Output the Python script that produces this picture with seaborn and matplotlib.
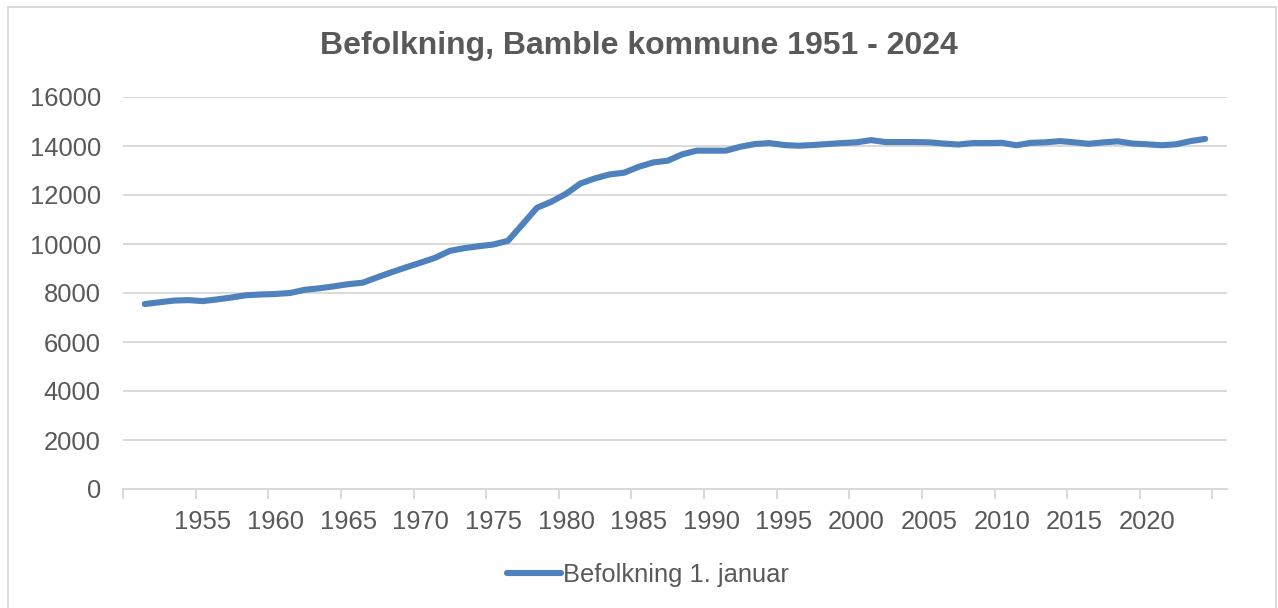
import matplotlib
matplotlib.use('Agg')
import matplotlib.pyplot as plt
import matplotlib.ticker as ticker
from matplotlib.patches import Rectangle
import seaborn as sns
import pandas as pd

# Befolkning 1. januar, Bamble kommune
aar = list(range(1951, 2025))
befolkning = [
    7550, 7620, 7690, 7710, 7670, 7740, 7820, 7910, 7940, 7960,   # 1951-1960
    8000, 8130, 8190, 8270, 8360, 8420, 8640, 8850, 9050, 9240,   # 1961-1970
    9440, 9720, 9830, 9910, 9980, 10130, 10800, 11480, 11730, 12050,  # 1971-1980
    12470, 12680, 12840, 12910, 13150, 13330, 13400, 13660, 13810, 13810,  # 1981-1990
    13810, 13970, 14080, 14120, 14040, 14010, 14040, 14080, 14120, 14150,  # 1991-2000
    14240, 14160, 14160, 14160, 14150, 14100, 14060, 14120, 14120, 14130,  # 2001-2010
    14030, 14130, 14150, 14200, 14150, 14090, 14150, 14190, 14100, 14070,  # 2011-2020
    14030, 14070, 14200, 14290,                                      # 2021-2024
]
etikett_aar = list(range(1955, 2021, 5))
serie_navn = 'Befolkning 1. januar'
tittel = 'Befolkning, Bamble kommune 1951 - 2024'

df = pd.DataFrame({'Aar': aar, 'Befolkning': befolkning})

sns.set_style('white')
plt.rcParams['font.family'] = ['Liberation Sans', 'DejaVu Sans']

GRAA = '#595959'
LINJE = '#d9d9d9'
BLAA = '#4f81bd'

fig = plt.figure(figsize=(12.78, 6.08), dpi=100)
ax = fig.add_axes([123 / 1278, 119 / 608, 1104 / 1278, 392 / 608])

sns.lineplot(data=df, x='Aar', y='Befolkning', ax=ax, color=BLAA,
             linewidth=4.4, label=serie_navn, solid_capstyle='round')

ax.set_xlim(1949.5, 2025.5)
ax.set_ylim(0, 16000)
ax.yaxis.set_major_locator(ticker.MultipleLocator(2000))
ax.grid(axis='y', color=LINJE, linewidth=1.4)
ax.set_axisbelow(True)

for s in ['top', 'right', 'left']:
    ax.spines[s].set_visible(False)
ax.spines['bottom'].set_color(LINJE)
ax.spines['bottom'].set_linewidth(1.4)

# etiketter midt i kategorien, streker mellom hver femte kategori
ax.set_xticks(etikett_aar)
ax.set_xticks([1949.5 + 5 * k for k in range(16)], minor=True)
ax.tick_params(axis='x', which='major', bottom=True, length=0, pad=15,
               labelsize=18.4, labelcolor=GRAA)
ax.tick_params(axis='x', which='minor', bottom=True, length=7, width=1.4,
               color=LINJE, direction='out')
ax.tick_params(axis='y', length=0, pad=16, labelsize=18.4, labelcolor=GRAA)

ax.set_xlabel('')
ax.set_ylabel('')
ax.get_legend().remove()

fig.text(0.5, 1 - 46 / 608, tittel, ha='center', va='center',
         fontsize=23, fontweight='bold', color=GRAA)

handles, labels = ax.get_legend_handles_labels()
fig.legend(handles, labels, loc='center', bbox_to_anchor=(0.507, 33 / 608),
           frameon=False, fontsize=18.4, labelcolor=GRAA,
           handlelength=2.1, handletextpad=0.1)

fig.patches.append(Rectangle((8 / 1278, -0.05), 1268 / 1278, 1.05 - 7 / 608,
                             transform=fig.transFigure, fill=False,
                             edgecolor=LINJE, linewidth=1.4))

fig.savefig('out.png', dpi=100)
